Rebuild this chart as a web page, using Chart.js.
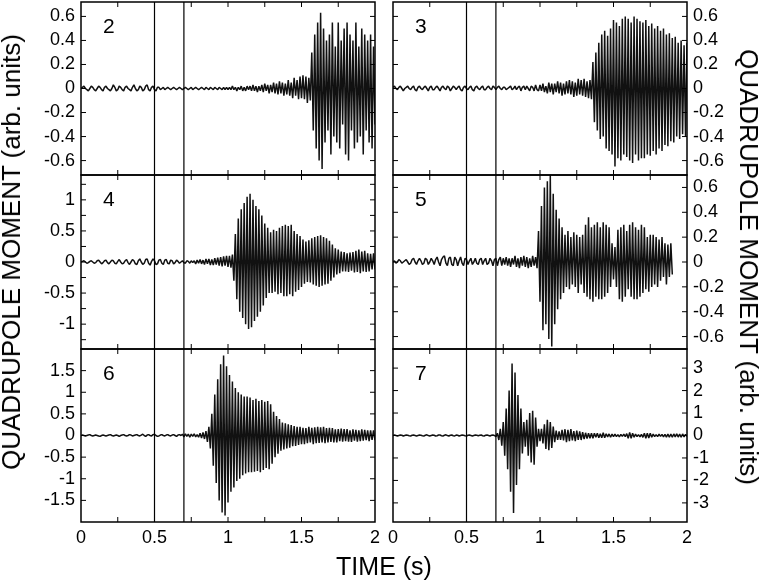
<!DOCTYPE html>
<html>
<head>
<meta charset="utf-8">
<script src="https://cdn.jsdelivr.net/npm/chart.js@4.4.1/dist/chart.umd.min.js"></script>
<style>
  body { margin: 0; background: #fff; width: 761px; height: 584px; position: relative; overflow: hidden; font-family: "Liberation Sans", Arial, sans-serif; }
  canvas { position: absolute; }
  .title { position: absolute; white-space: nowrap; color: #000; }
</style>
</head>
<body>
<canvas id="c2"></canvas>
<canvas id="c3"></canvas>
<canvas id="c4"></canvas>
<canvas id="c5"></canvas>
<canvas id="c6"></canvas>
<canvas id="c7"></canvas>
<div class="title" id="yTitleLeft">QUADRUPOLE MOMENT (arb. units)</div>
<div class="title" id="yTitleRight">QUADRUPOLE MOMENT (arb. units)</div>
<div class="title" id="xTitle">TIME (s)</div>
<script>
// sampling step of the traces (s)
const timeStep = 0.01;
const timeLabels = [0, 0.5, 1, 1.5, 2];
const timeMarks = [0.25, 0.5, 0.75, 1, 1.25, 1.5, 1.75];
const markerTimes = [0.5, 0.7];

// quadrupole moment traces, one value every 10 ms
const moment2 = [
  0, 0.01, 0.02, 0, -0.01, -0.02, 0, 0.02, 0.01, -0.01,
  -0.02, 0, 0.02, 0.01, -0.01, -0.02, 0.01, 0.02, 0, -0.01,
  -0.02, 0, 0.03, 0.01, -0.02, -0.01, 0.02, 0.01, -0.01, -0.02,
  0.01, 0.02, 0, -0.01, -0.02, 0.01, 0.03, 0, -0.02, -0.01,
  0.02, 0.01, -0.02, -0.01, 0.02, 0.03, -0.01, -0.02, 0.01, 0.02,
  -0.01, -0.02, 0.01, 0.01, -0.01, 0, 0.01, -0.01, 0, 0.01,
  0, -0.01, 0, 0.01, 0, -0.01, 0, 0.01, 0, -0.01,
  0, 0.01, 0, -0.01, 0, 0.01, -0.01, 0, 0.01, 0,
  -0.01, 0, 0.01, 0, -0.01, 0.01, 0, -0.01, 0.01, 0,
  -0.01, 0.01, 0, -0.01, 0.01, 0, -0.01, 0.01, -0.01, 0.01,
  -0.01, 0.01, -0.01, 0.02, -0.01, 0.01, -0.02, 0.01, -0.01, 0.02,
  -0.02, 0.01, -0.02, 0.02, -0.01, 0.02, -0.02, 0.03, -0.02, 0.02,
  -0.03, 0.02, -0.02, 0.03, -0.03, 0.04, -0.02, 0.03, -0.04, 0.03,
  -0.03, 0.05, -0.04, 0.04, -0.05, 0.06, -0.04, 0.05, -0.06, 0.04,
  -0.05, 0.07, -0.06, 0.05, -0.08, 0.09, -0.06, 0.07, -0.09, 0.1,
  -0.08, 0.11, -0.09, 0.1, -0.12, 0.09, -0.1, 0.3, -0.35, 0.45,
  -0.5, 0.55, -0.6, 0.63, -0.67, 0.5, -0.45, 0.4, -0.35, 0.45,
  -0.55, 0.55, -0.4, 0.35, -0.45, 0.55, -0.5, 0.4, -0.3, 0.5,
  -0.55, 0.55, -0.6, 0.45, -0.35, 0.4, -0.5, 0.55, -0.45, 0.35,
  -0.4, 0.5, -0.55, 0.45, -0.35, 0.4, -0.45, 0.45, -0.5, 0.35,
  -0.3
];
const moment3 = [
  0.01, 0.02, 0, -0.01, 0.01, 0.02, 0, -0.02, 0, 0.01,
  0.02, 0, -0.01, 0.01, 0.02, -0.01, -0.02, 0.01, 0.02, 0,
  -0.01, 0.01, 0.02, 0, -0.02, 0.01, 0.02, -0.01, -0.01, 0.01,
  0.02, 0, -0.02, 0.01, 0.02, 0, -0.01, 0.02, 0.01, -0.02,
  0, 0.02, 0.01, -0.01, 0.01, 0.02, -0.01, -0.02, 0.01, 0.02,
  0, -0.01, 0.01, 0.02, -0.01, -0.02, 0.01, 0.02, 0, -0.01,
  0.01, 0.02, -0.01, -0.01, 0.01, 0.02, 0, -0.01, 0.02, 0.01,
  -0.01, 0.01, 0.02, 0, -0.01, 0.01, 0.01, -0.01, 0, 0.01,
  0.02, -0.01, 0, 0.02, -0.01, 0.01, 0.02, -0.02, 0.01, 0.02,
  -0.01, 0.02, 0, -0.02, 0.02, 0.01, -0.02, 0.03, -0.01, -0.02,
  0.03, -0.02, 0.04, -0.03, 0.02, -0.04, 0.05, -0.03, 0.04, -0.05,
  0.04, -0.03, 0.06, -0.04, 0.05, -0.06, 0.04, -0.05, 0.06, -0.04,
  0.07, -0.05, 0.06, -0.07, 0.05, -0.06, 0.08, -0.05, 0.07, -0.06,
  0.08, -0.07, 0.06, -0.08, 0.07, -0.09, 0.22, -0.28, 0.3, -0.35,
  0.38, -0.42, 0.45, -0.4, 0.48, -0.5, 0.44, -0.52, 0.5, -0.55,
  0.57, -0.65, 0.55, -0.58, 0.52, -0.6, 0.58, -0.55, 0.6, -0.57,
  0.58, -0.6, 0.55, -0.62, 0.6, -0.55, 0.58, -0.6, 0.56, -0.58,
  0.55, -0.58, 0.57, -0.55, 0.52, -0.56, 0.54, -0.52, 0.5, -0.55,
  0.52, -0.5, 0.48, -0.52, 0.5, -0.47, 0.45, -0.48, 0.46, -0.44,
  0.42, -0.45, 0.43, -0.4, 0.38, -0.42, 0.4, -0.38, 0.36, -0.4,
  0.38
];
const moment4 = [
  0, 0.01, 0.02, 0, -0.02, -0.01, 0.01, 0.02, 0, -0.02,
  -0.01, 0.02, 0.03, 0, -0.03, -0.01, 0.02, 0.03, -0.01, -0.03,
  0, 0.03, 0.02, -0.02, -0.03, 0.01, 0.04, 0, -0.03, -0.02,
  0.02, 0.04, -0.01, -0.04, 0, 0.04, 0.02, -0.03, -0.04, 0.02,
  0.05, 0, -0.04, -0.02, 0.04, 0.05, -0.02, -0.05, 0.01, 0.05,
  0.02, -0.04, -0.03, 0.03, 0.04, -0.02, -0.04, 0.03, 0.04, -0.02,
  -0.03, 0.03, 0.02, -0.03, -0.01, 0.03, 0.01, -0.02, 0, 0.02,
  -0.01, -0.02, 0.02, 0.01, -0.02, 0.02, -0.01, 0.02, -0.03, 0.03,
  -0.02, 0.04, -0.03, 0.03, -0.04, 0.05, -0.03, 0.05, -0.05, 0.04,
  -0.05, 0.06, -0.04, 0.07, -0.06, 0.08, -0.07, 0.09, -0.06, 0.1,
  -0.08, 0.1, -0.09, 0.12, -0.3, 0.45, -0.6, 0.7, -0.8, 0.85,
  -0.9, 0.95, -1.0, 1.05, -1.08, 1.1, -1.05, 1.0, -0.95, 0.9,
  -0.88, 0.85, -0.8, 0.75, -0.7, 0.62, -0.58, 0.55, -0.5, 0.48,
  -0.5, 0.52, -0.48, 0.5, -0.52, 0.55, -0.5, 0.58, -0.55, 0.6,
  -0.55, 0.58, -0.52, 0.6, -0.55, 0.5, -0.48, 0.45, -0.45, 0.42,
  -0.4, 0.36, -0.35, 0.33, -0.32, 0.35, -0.33, 0.38, -0.36, 0.4,
  -0.38, 0.42, -0.4, 0.43, -0.38, 0.4, -0.36, 0.38, -0.35, 0.34,
  -0.3, 0.28, -0.25, 0.22, -0.2, 0.2, -0.18, 0.17, -0.15, 0.16,
  -0.15, 0.14, -0.16, 0.15, -0.14, 0.16, -0.17, 0.18, -0.16, 0.2,
  -0.18, 0.17, -0.15, 0.18, -0.16, 0.14, -0.15, 0.13, -0.12, 0.14,
  -0.12
];
// trace 5 stops at 1.9 s
const moment5 = [
  0, 0.01, -0.01, 0, 0.02, 0.01, -0.01, 0, 0.01, 0.02,
  0, -0.02, -0.01, 0.02, 0.03, 0, -0.02, 0.01, 0.03, 0.01,
  -0.02, -0.01, 0.03, 0.02, -0.02, 0, 0.03, 0.01, -0.02, 0.02,
  0.04, 0, -0.03, 0.02, 0.04, 0.05, -0.01, -0.03, 0.03, 0.04,
  -0.02, -0.03, 0.04, 0.02, -0.03, 0.01, 0.04, -0.01, -0.03, 0.03,
  0.02, -0.02, 0.01, 0.03, -0.02, 0, 0.03, -0.01, -0.02, 0.02,
  0.03, -0.02, 0.01, 0.03, -0.02, -0.01, 0.03, 0.01, -0.03, 0.02,
  0.03, -0.03, 0.02, 0.04, -0.03, 0.03, -0.02, 0.04, -0.03, 0.03,
  -0.04, 0.03, -0.02, 0.05, -0.04, 0.03, -0.05, 0.04, -0.03, 0.05,
  -0.04, 0.04, -0.05, 0.03, -0.04, 0.05, -0.03, 0.04, -0.05, 0.25,
  -0.32, 0.45, -0.55, 0.6, -0.5, 0.65, -0.62, 0.7, -0.68, 0.55,
  -0.5, 0.42, -0.38, 0.35, -0.3, 0.28, -0.25, 0.22, -0.2, 0.25,
  -0.22, 0.2, -0.18, 0.24, -0.2, 0.22, -0.25, 0.2, -0.18, 0.22,
  -0.25, 0.3, -0.28, 0.36, -0.3, 0.28, -0.32, 0.3, -0.28, 0.32,
  -0.3, 0.28, -0.3, 0.32, -0.28, 0.3, -0.25, 0.28, -0.2, 0.15,
  -0.14, 0.12, -0.2, 0.26, -0.3, 0.28, -0.32, 0.3, -0.28, 0.25,
  -0.22, 0.3, -0.28, 0.32, -0.3, 0.28, -0.3, 0.26, -0.28, 0.3,
  -0.25, 0.28, -0.22, 0.2, -0.24, 0.22, -0.2, 0.22, -0.18, 0.2,
  -0.2, 0.18, -0.15, 0.2, -0.12, 0.15, -0.18, 0.14, -0.12, 0.15,
  -0.1
];
const moment6 = [
  0, 0.01, 0, -0.01, 0, 0.01, 0.02, 0, -0.01, 0,
  0.01, 0, -0.01, -0.02, 0, 0.01, 0, -0.01, 0, 0.01,
  0.02, 0, -0.01, 0, 0.01, 0, -0.02, 0, 0.01, 0.02,
  0, -0.01, 0, 0.02, 0.01, -0.01, 0, 0.01, 0.02, 0,
  -0.01, 0.01, 0.03, 0, -0.02, 0.01, 0.02, 0, -0.01, 0.02,
  0.03, 0, -0.02, -0.01, 0.01, 0.02, 0, -0.01, 0.01, 0.02,
  0, -0.01, 0.01, 0.02, 0, -0.02, 0.01, 0.02, 0, 0.03,
  -0.03, 0.04, -0.02, 0.03, -0.04, 0.03, -0.02, 0.04, -0.03, 0.02,
  -0.04, 0.05, -0.06, 0.07, -0.08, 0.1, -0.15, 0.2, -0.3, 0.5,
  -0.7, 0.95, -1.1, 1.3, -1.5, 1.65, -1.78, 1.85, -1.85, 1.6,
  -1.55, 1.4, -1.3, 1.25, -1.2, 1.1, -1.05, 1.0, -1.0, 0.95,
  -0.92, 0.9, -0.88, 0.9, -0.85, 0.88, -0.85, 0.82, -0.84, 0.85,
  -0.82, 0.8, -0.85, 0.82, -0.8, 0.78, -0.75, 0.8, -0.78, 0.72,
  -0.65, 0.55, -0.5, 0.45, -0.42, 0.38, -0.35, 0.3, -0.32, 0.28,
  -0.3, 0.26, -0.28, 0.24, -0.25, 0.22, -0.24, 0.2, -0.22, 0.2,
  -0.2, 0.18, -0.2, 0.17, -0.18, 0.2, -0.16, 0.18, -0.2, 0.19,
  -0.18, 0.2, -0.17, 0.19, -0.16, 0.2, -0.18, 0.17, -0.16, 0.18,
  -0.15, 0.17, -0.16, 0.14, -0.16, 0.15, -0.13, 0.16, -0.14, 0.15,
  -0.13, 0.15, -0.14, 0.12, -0.15, 0.14, -0.12, 0.13, -0.14, 0.12,
  -0.13, 0.14, -0.12, 0.13, -0.11, 0.12, -0.13, 0.12, -0.1, 0.12,
  -0.11
];
const moment7 = [
  0, 0.02, 0, -0.02, 0, 0.02, 0.01, -0.02, 0, 0.02,
  0.01, -0.01, -0.02, 0.01, 0.02, 0, -0.02, 0, 0.02, 0.01,
  -0.01, -0.02, 0.01, 0.03, 0, -0.02, 0, 0.02, 0.01, -0.02,
  -0.01, 0.02, 0.02, -0.01, -0.02, 0.01, 0.03, 0, -0.02, 0.01,
  0.02, -0.01, -0.02, 0.02, 0.01, -0.02, 0, 0.02, 0.01, -0.01,
  -0.02, 0.01, 0.02, 0, -0.02, 0, 0.02, 0.01, -0.01, 0.01,
  0.02, -0.01, -0.02, 0.01, 0.02, 0, -0.02, 0.01, 0.02, 0,
  -0.05, 0.1, -0.2, 0.3, -0.45, 0.6, -0.9, 1.2, -1.5, 2.0,
  -2.5, 3.2, -3.45, 2.8, -2.2, 1.8, -1.5, 1.2, -0.8, 0.6,
  -0.5, 0.7, -0.9, 1.0, -1.2, 1.1, -1.3, 0.8, -0.5, 0.3,
  -0.25, 0.3, -0.35, 0.5, -0.6, 0.7, -0.65, 0.6, -0.55, 0.4,
  -0.3, 0.22, -0.2, 0.18, -0.2, 0.25, -0.22, 0.28, -0.3, 0.25,
  -0.25, 0.28, -0.22, 0.2, -0.25, 0.22, -0.2, 0.18, -0.2, 0.15,
  -0.16, 0.12, -0.14, 0.1, -0.12, 0.1, -0.12, 0.1, -0.08, 0.1,
  -0.1, 0.08, -0.1, 0.12, -0.1, 0.08, -0.06, 0.07, -0.08, 0.06,
  -0.05, 0.06, -0.05, 0.04, -0.06, 0.05, -0.04, 0.06, -0.05, 0.08,
  -0.12, 0.14, -0.12, 0.1, -0.08, 0.06, -0.05, 0.04, -0.06, 0.05,
  -0.08, 0.1, -0.12, 0.1, -0.11, 0.1, -0.08, 0.06, -0.05, 0.04,
  -0.05, 0.06, -0.04, 0.05, -0.06, 0.05, -0.07, 0.06, -0.08, 0.07,
  -0.08, 0.07, -0.06, 0.08, -0.07, 0.06, -0.08, 0.07, -0.06, 0.05,
  -0.04
];

// axis ticks: labelled values and all tick marks per panel
const yLabels2 = [-0.6, -0.4, -0.2, 0, 0.2, 0.4, 0.6];
const yLabels4 = [-1, -0.5, 0, 0.5, 1];
const yMarks4 = [-1.25, -1, -0.75, -0.5, -0.25, 0, 0.25, 0.5, 0.75, 1, 1.25];
const yLabels6 = [-1.5, -1, -0.5, 0, 0.5, 1, 1.5];
const yLabels7 = [-3, -2, -1, 0, 1, 2, 3];

Chart.defaults.font.family = '"Liberation Sans", Arial, sans-serif';
Chart.defaults.font.size = 18;
Chart.defaults.color = '#000';

const framePlugin = {
  id: 'frame',
  afterDatasetsDraw(chart, args, opts) {
    const { ctx, chartArea: a, scales: { x, y } } = chart;
    ctx.save();
    ctx.strokeStyle = '#000';
    ctx.lineWidth = 1.2;
    markerTimes.forEach(t => {
      const px = x.getPixelForValue(t);
      ctx.beginPath(); ctx.moveTo(px, a.top); ctx.lineTo(px, a.bottom); ctx.stroke();
    });
    ctx.lineWidth = 1;
    timeMarks.forEach(t => {
      const px = x.getPixelForValue(t);
      ctx.beginPath();
      ctx.moveTo(px, a.top); ctx.lineTo(px, a.top + 5);
      ctx.moveTo(px, a.bottom); ctx.lineTo(px, a.bottom - 5);
      ctx.stroke();
    });
    opts.yMarks.forEach(v => {
      const py = y.getPixelForValue(v);
      ctx.beginPath();
      ctx.moveTo(a.left, py); ctx.lineTo(a.left + 5, py);
      ctx.moveTo(a.right, py); ctx.lineTo(a.right - 5, py);
      ctx.stroke();
    });
    ctx.lineWidth = 1.5;
    ctx.strokeRect(a.left, a.top, a.right - a.left, a.bottom - a.top);
    ctx.fillStyle = '#000';
    ctx.font = '21px "Liberation Sans", Arial, sans-serif';
    ctx.fillText(opts.label, a.left + 22, a.top + 31);
    ctx.restore();
  }
};

function makePanel(id, label, values, yMax, yLabels, yMarks, col, row) {
  const rows = [[2, 175], [175, 349], [349, 522]];
  const [top, bottom] = rows[row];
  const last = row === 2;
  const left = col === 0 ? 0 : 376;
  const width = col === 0 ? 392 : 361;
  const height = bottom - top + 3 + (last ? 32 : 3);
  const canvas = document.getElementById(id);
  canvas.width = width; canvas.height = height;
  canvas.style.left = left + 'px';
  canvas.style.top = (top - 3) + 'px';

  new Chart(canvas, {
    type: 'line',
    data: {
      datasets: [{
        data: values.map((v, i) => ({ x: i * timeStep, y: v })),
        borderColor: '#111',
        borderWidth: 1.5,
        borderJoinStyle: 'bevel',
        pointRadius: 0,
        tension: 0
      }]
    },
    options: {
      responsive: false,
      animation: false,
      layout: { padding: { top: 3, bottom: last ? 0 : 3, left: col === 0 ? 0 : 17, right: col === 0 ? 17 : 0 } },
      plugins: {
        legend: { display: false },
        tooltip: { enabled: false },
        frame: { label: label, yMarks: yMarks }
      },
      scales: {
        x: {
          type: 'linear', min: 0, max: 2,
          afterBuildTicks: s => { s.ticks = timeLabels.map(v => ({ value: v })); },
          afterFit: s => { s.height = last ? 32 : 0; s.paddingLeft = 0; s.paddingRight = 0; },
          grid: { display: false, drawTicks: false },
          border: { display: false },
          ticks: { display: last, padding: 5, callback: v => String(v) }
        },
        y: {
          type: 'linear', position: col === 0 ? 'left' : 'right',
          min: -yMax, max: yMax,
          afterBuildTicks: s => { s.ticks = yLabels.map(v => ({ value: v })); },
          afterFit: s => { s.width = col === 0 ? 81 : 50; s.paddingTop = 0; s.paddingBottom = 0; },
          grid: { display: false, drawTicks: false },
          border: { display: false },
          ticks: { padding: 6, callback: v => String(v) }
        }
      }
    },
    plugins: [framePlugin]
  });
}

makePanel('c2', '2', moment2, 0.72, yLabels2, yLabels2, 0, 0);
makePanel('c3', '3', moment3, 0.72, yLabels2, yLabels2, 1, 0);
makePanel('c4', '4', moment4, 1.4, yLabels4, yMarks4, 0, 1);
makePanel('c5', '5', moment5, 0.7, yLabels2, yLabels2, 1, 1);
makePanel('c6', '6', moment6, 2.0, yLabels6, yLabels6, 0, 2);
makePanel('c7', '7', moment7, 3.85, yLabels7, yLabels7, 1, 2);

// axis titles
const tl = document.getElementById('yTitleLeft');
tl.style.cssText = 'left:11px;top:252px;font-size:26px;line-height:26px;transform:translate(-50%,-50%) rotate(-90deg);';
const tr = document.getElementById('yTitleRight');
tr.style.cssText = 'left:749px;top:267px;font-size:26px;line-height:26px;transform:translate(-50%,-50%) rotate(90deg);';
const tx = document.getElementById('xTitle');
tx.style.cssText = 'left:384px;top:554px;font-size:25px;line-height:25px;transform:translateX(-50%);';
</script>
</body>
</html>
